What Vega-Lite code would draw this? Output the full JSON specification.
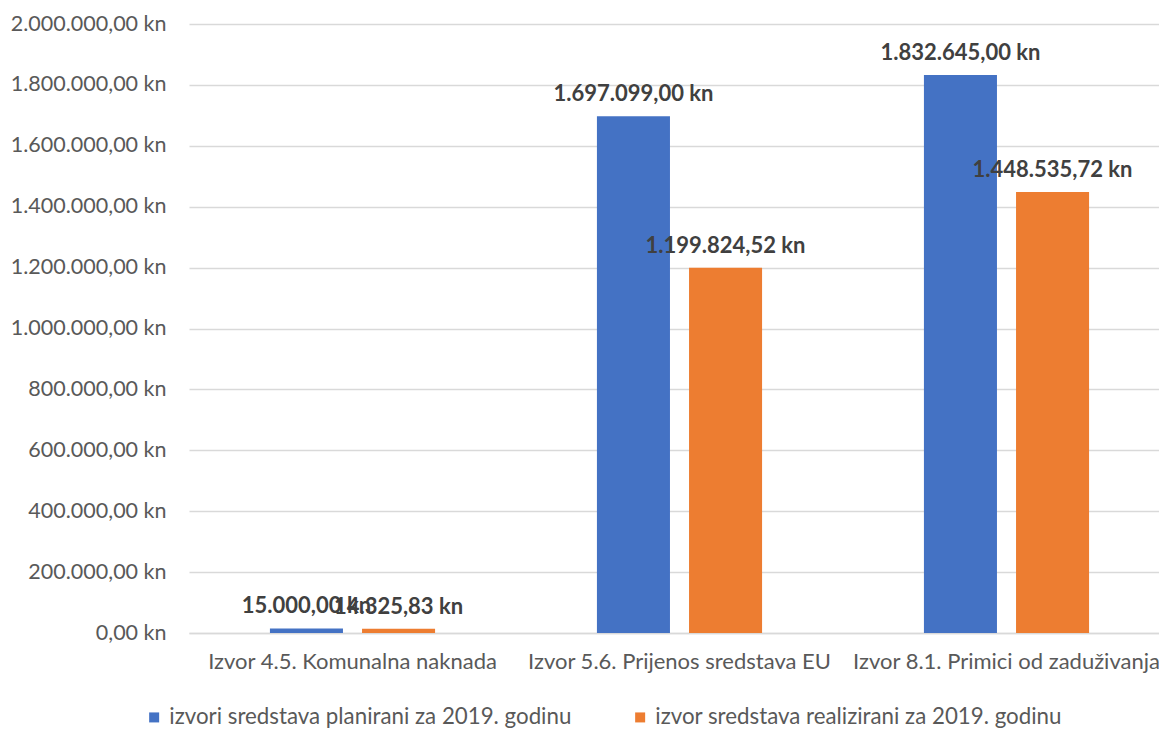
{
  "$schema": "https://vega.github.io/schema/vega-lite/v6.json",
  "width": 970,
  "height": 609,
  "autosize": {"type": "none"},
  "padding": {"left": 189, "top": 24, "right": 0, "bottom": 96},
  "config": {
    "locale": {"number": {"decimal": ",", "thousands": ".", "grouping": [3], "currency": ["", " kn"]}},
    "view": {"stroke": null},
    "font": "Lato"
  },
  "data": {
    "values": [
      {"cat": "Izvor 4.5. Komunalna naknada", "series": "izvori sredstava planirani za 2019. godinu", "value": 15000.00},
      {"cat": "Izvor 4.5. Komunalna naknada", "series": "izvor sredstava realizirani za 2019. godinu", "value": 14325.83},
      {"cat": "Izvor 5.6. Prijenos sredstava EU", "series": "izvori sredstava planirani za 2019. godinu", "value": 1697099.00},
      {"cat": "Izvor 5.6. Prijenos sredstava EU", "series": "izvor sredstava realizirani za 2019. godinu", "value": 1199824.52},
      {"cat": "Izvor 8.1. Primici od zaduživanja", "series": "izvori sredstava planirani za 2019. godinu", "value": 1832645.00},
      {"cat": "Izvor 8.1. Primici od zaduživanja", "series": "izvor sredstava realizirani za 2019. godinu", "value": 1448535.72}
    ]
  },
  "encoding": {
    "x": {
      "field": "cat", "type": "nominal", "sort": null,
      "scale": {"range": [0, 981], "paddingInner": 0.495, "paddingOuter": 0.2475},
      "axis": {"title": null, "labelAngle": 0, "ticks": false, "domainColor": "#d9d9d9", "domainWidth": 1.5, "labelFontSize": 22, "labelColor": "#595959", "labelPadding": 18, "labelLimit": 0}
    },
    "xOffset": {"field": "series", "sort": null, "scale": {"paddingInner": 0.207, "paddingOuter": 0}},
    "y": {
      "field": "value", "type": "quantitative",
      "scale": {"domain": [0, 2000000]},
      "axis": {"title": null, "format": "$,.2f", "values": [0, 200000, 400000, 600000, 800000, 1000000, 1200000, 1400000, 1600000, 1800000, 2000000], "domain": false, "ticks": false, "gridColor": "#d9d9d9", "gridWidth": 1.5, "labelPadding": 23, "labelFontSize": 21.5, "labelColor": "#595959"}
    }
  },
  "layer": [
    {
      "mark": {"type": "bar"},
      "encoding": {
        "color": {
          "field": "series", "type": "nominal", "sort": null,
          "scale": {"domain": ["izvori sredstava planirani za 2019. godinu", "izvor sredstava realizirani za 2019. godinu"], "range": ["#4472C4", "#ED7D31"]},
          "legend": {"title": null, "orient": "none", "legendX": -46, "legendY": 682, "direction": "horizontal", "symbolType": "square", "symbolSize": 100, "symbolStrokeWidth": 0, "labelFontSize": 22.3, "labelColor": "#595959", "labelOffset": 4, "columnPadding": 57, "labelLimit": 0}
        }
      }
    },
    {
      "mark": {"type": "text", "dy": -15, "baseline": "alphabetic", "fontWeight": "bold", "fontSize": 22, "color": "#404040"},
      "encoding": {
        "text": {"field": "value", "type": "quantitative", "format": "$,.2f"}
      }
    }
  ]
}
